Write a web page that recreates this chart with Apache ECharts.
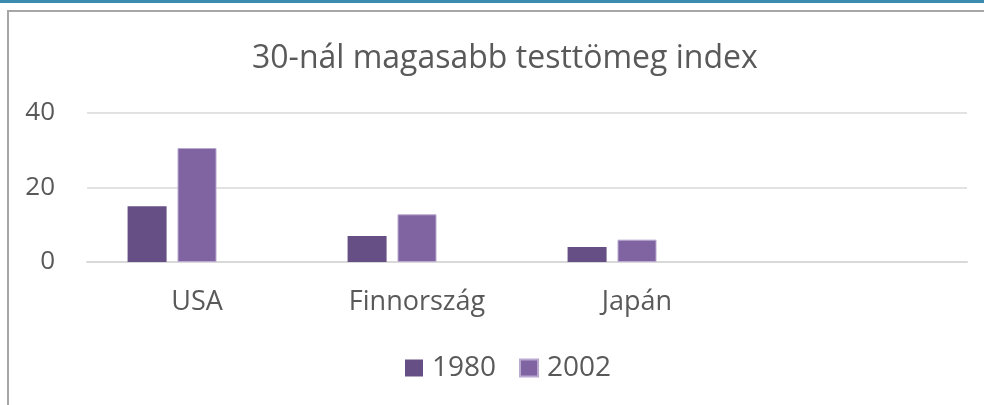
<!DOCTYPE html>
<html lang="hu">
<head>
<meta charset="UTF-8">
<title>30-nál magasabb testtömeg index</title>
<script src="https://cdn.jsdelivr.net/npm/echarts@6/dist/echarts.min.js"></script>
<style>
  body { margin: 0; background: #fff; }
  #wrap { position: relative; width: 984px; height: 405px; overflow: hidden; }
  #topline { position: absolute; left: 0; top: 0; width: 984px; height: 3px; background: #3a8cae; }
  #frame { position: absolute; left: 7px; top: 10px; width: 990px; height: 400px;
           border-left: 2px solid #a6a6a6; border-top: 2px solid #a6a6a6; }
  #main { position: absolute; left: 0; top: 0; width: 984px; height: 405px; }
</style>
</head>
<body>
<div id="wrap">
  <div id="topline"></div>
  <div id="frame"></div>
  <div id="main"></div>
</div>
<script>
var countries = ['USA', 'Finnország', 'Japán', ''];
var v1980 = [15, 7, 4, null];
var v2002 = [30.6, 12.8, 6, null];
var vEmpty = [null, null, null, null];
var yTicks = [0, 20, 40];

var font = '"Open Sans", sans-serif';
var chart = echarts.init(document.getElementById('main'));
chart.setOption({
  animation: false,
  title: {
    text: '30-nál magasabb testtömeg index',
    left: 247,
    top: 38,
    itemGap: 0,
    textStyle: { fontFamily: font, fontSize: 32, fontWeight: 'normal', color: '#595959' }
  },
  legend: {
    data: ['1980', '2002'],
    bottom: 18,
    left: 400,
    itemWidth: 18,
    itemHeight: 17,
    itemGap: 23,
    icon: 'rect',
    textStyle: { fontFamily: font, fontSize: 28, color: '#595959', padding: [0, 0, 0, 4] }
  },
  grid: { left: 87, right: 17, top: 113, bottom: 143 },
  xAxis: {
    type: 'category',
    data: countries,
    axisLine: { lineStyle: { color: '#d9d9d9', width: 2 } },
    axisTick: { show: false },
    axisLabel: { fontFamily: font, fontSize: 27, color: '#595959', margin: 27 }
  },
  yAxis: {
    type: 'value',
    min: yTicks[0],
    max: yTicks[yTicks.length - 1],
    interval: 20,
    axisLine: { show: false },
    axisTick: { show: false },
    splitLine: { lineStyle: { color: '#d9d9d9', width: 1.5 } },
    axisLabel: { fontFamily: font, fontSize: 26, color: '#595959', margin: 32 }
  },
  series: [
    { name: '1980', type: 'bar', data: v1980, barWidth: 39, barGap: '28%',
      itemStyle: { color: '#664f84' } },
    { name: '2002', type: 'bar', data: v2002, barWidth: 39, barGap: '28%',
      itemStyle: { color: '#8064a2', borderColor: '#b9a8cf', borderWidth: 1 } },
    { name: 'empty', type: 'bar', data: vEmpty, barWidth: 39, barGap: '28%' }
  ]
});
</script>
</body>
</html>
